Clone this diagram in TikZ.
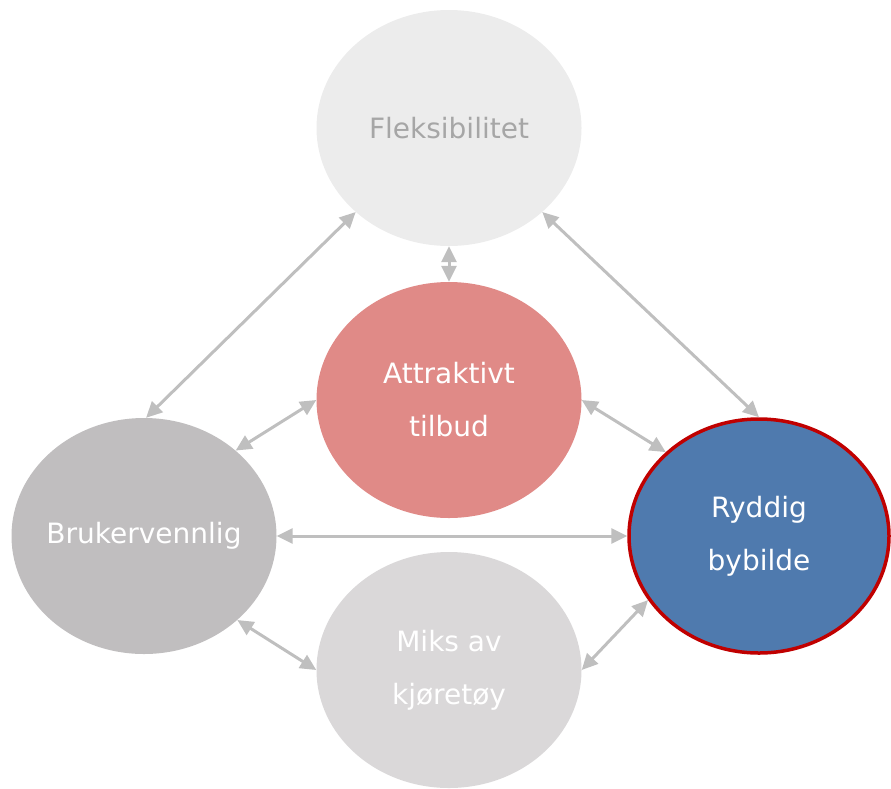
\documentclass[tikz,border=0pt]{standalone}
\usepackage{fontspec}
\setmainfont{DejaVu Sans}
\usetikzlibrary{shapes.geometric,arrows.meta}
\definecolor{flekfill}{HTML}{ECECEC}
\definecolor{flektext}{HTML}{A6A6A6}
\definecolor{attfill}{HTML}{E08A87}
\definecolor{brukfill}{HTML}{C0BEBF}
\definecolor{miksfill}{HTML}{DAD8D9}
\definecolor{rydfill}{HTML}{4F7AAE}
\definecolor{rydborder}{HTML}{C00000}
\definecolor{arrowgray}{HTML}{BFBFBF}
\tikzset{
  bubble/.style={ellipse, inner ysep=0pt, inner xsep=-30pt, minimum width=265pt, minimum height=236pt,
    align=center, text=white, font=\fontsize{28}{53}\selectfont},
  link/.style={draw=arrowgray, line width=3pt,
    {Triangle[length=16pt,width=15pt]}-{Triangle[length=16pt,width=15pt]}}
}
\begin{document}
\begin{tikzpicture}[x=1pt,y=-1pt]
\useasboundingbox (0,0) rectangle (891,788);
\node[bubble, fill=flekfill, text=flektext] (flek) at (449,128) {Fleksibilitet};
\node[bubble, fill=attfill] (att) at (449,400) {Attraktivt\\tilbud};
\node[bubble, fill=brukfill] (bruk) at (144,536) {Brukervennlig};
\node[bubble, fill=miksfill] (miks) at (449,670) {Miks av\\kjøretøy};
\node[bubble, fill=rydfill, draw=rydborder, line width=3.5pt, minimum width=260pt, minimum height=234pt] (ryd) at (759,536) {Ryddig\\bybilde};
\draw[link] (flek.222) -- (bruk.89);
\draw[link] (flek.318) -- (ryd.90);
\draw[link] (flek.south) -- (att.north);
\draw[link] (att.west) -- (bruk.43);
\draw[link] (att.east) -- (ryd.138);
\draw[link] (bruk.east) -- (ryd.west);
\draw[link] (bruk.318) -- (miks.west);
\draw[link] (miks.east) -- (ryd.210);
\end{tikzpicture}
\end{document}
